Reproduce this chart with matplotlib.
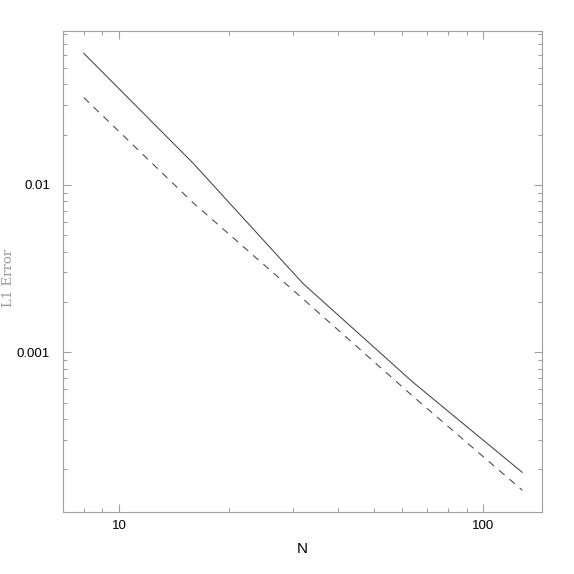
import numpy as np
from matplotlib import pyplot as plt
from matplotlib import ticker

# resolution N and L1 error for the two runs
n_vals = [8, 16, 32, 64, 128]
err_solid = [0.0612, 0.01343, 0.002576, 0.000665, 0.0001917]
err_dashed = [0.03327, 0.0078, 0.002085, 0.000548, 0.00015]

x_ticklabels = {10: "10", 100: "100"}
y_ticklabels = {0.01: "0.01", 0.001: "0.001"}

AXIS_GRAY = "#a0a0a0"


def main():
    plt.rcParams["lines.scale_dashes"] = False
    fig = plt.figure(figsize=(5.74, 5.74), dpi=100)
    ax = fig.add_axes([0.1092, 0.1075, 0.8345, 0.8385])

    ax.plot(n_vals, err_solid, color="#444444", lw=0.75)
    ax.plot(n_vals, err_dashed, color="#444444", lw=0.75, dashes=(5.2, 4.6))

    ax.set_xscale("log")
    ax.set_yscale("log")
    ax.set_xlim(7.0, 144.7)
    ax.set_ylim(0.0001107, 0.0832)

    ax.xaxis.set_major_locator(ticker.FixedLocator(list(x_ticklabels)))
    ax.xaxis.set_major_formatter(ticker.FixedFormatter(list(x_ticklabels.values())))
    ax.yaxis.set_major_locator(ticker.FixedLocator(list(y_ticklabels)))
    ax.yaxis.set_major_formatter(ticker.FixedFormatter(list(y_ticklabels.values())))
    for axis in (ax.xaxis, ax.yaxis):
        axis.set_minor_locator(ticker.LogLocator(base=10, subs=np.arange(2, 10), numticks=20))
        axis.set_minor_formatter(ticker.NullFormatter())

    for s in ax.spines.values():
        s.set_color(AXIS_GRAY)
        s.set_linewidth(0.8)
    ax.tick_params(which="both", direction="in", top=True, right=True,
                   color=AXIS_GRAY, width=0.8, labelcolor="black")
    ax.tick_params(which="major", length=5.8)
    ax.tick_params(which="minor", length=3.2)
    ax.tick_params(axis="x", pad=5.8, labelsize=9.5)
    ax.tick_params(axis="y", pad=9.0, labelsize=9.5)
    for lab in ax.get_xticklabels() + ax.get_yticklabels():
        lab.set_family("Liberation Sans")

    fig.text(302 / 574, 1 - 549 / 574, "N", ha="center", va="center",
             fontsize=11, family="Liberation Sans")
    fig.text(8.5 / 574, 1 - 278 / 574, "L1 Error", ha="center", va="center",
             rotation=90, fontsize=9.5, family="DejaVu Serif", color="#999999")

    fig.savefig("out.png", dpi=100)


if __name__ == "__main__":
    main()
